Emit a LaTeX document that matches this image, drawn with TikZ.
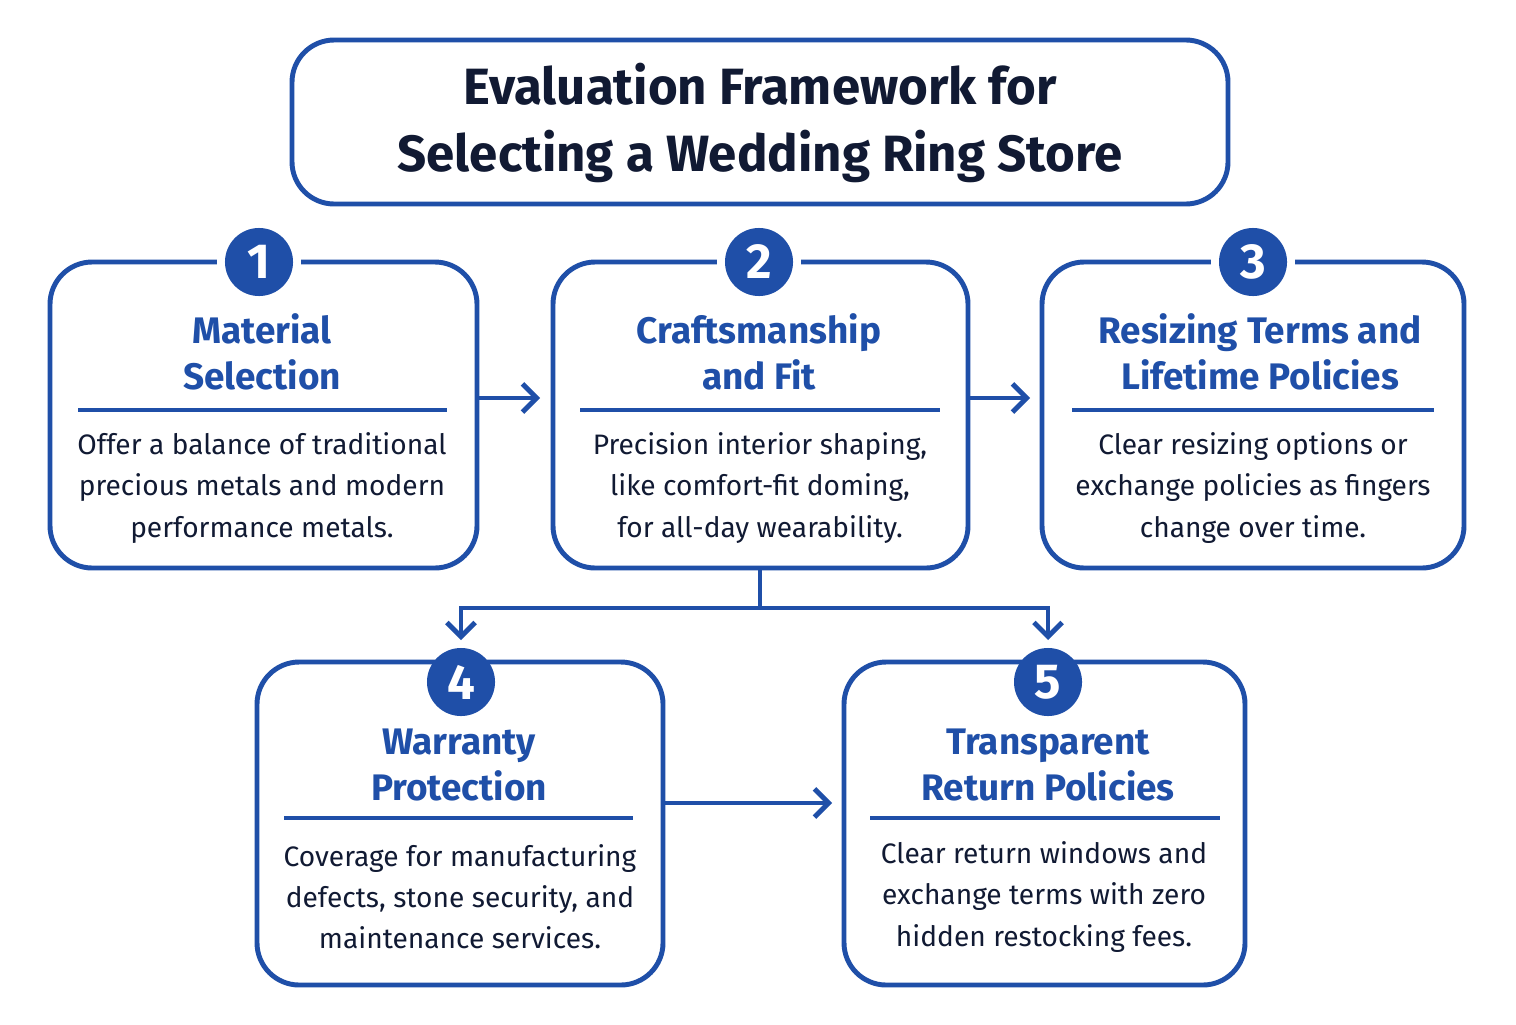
\documentclass[tikz,border=0pt]{standalone}
\usepackage{fontspec}
\setmainfont{Fira Sans}
\usetikzlibrary{positioning,arrows.meta}
\definecolor{ringblue}{HTML}{1F4FA8}
\definecolor{navy}{HTML}{111A33}
\tikzset{
  card/.style={draw=ringblue,line width=1.4pt,rounded corners=12pt,fill=white},
  badge/.style={circle,fill=ringblue,minimum size=0.68cm,inner sep=0pt,text=white,font=\bfseries\fontsize{14}{14}\selectfont},
  head/.style={text=ringblue,align=center,font=\fontsize{10.5}{13}\selectfont\bfseries},
  body/.style={text=navy,align=center,font=\fontsize{8}{11.7}\selectfont},
  flow/.style={draw=ringblue,line width=1.4pt,-{Straight Barb[length=4pt,width=8pt]}}
}
\begin{document}
\begin{tikzpicture}[x=0.01cm,y=-0.01cm]
\useasboundingbox[fill=white] (0,0) rectangle (1516,1024);

% title
\draw[card] (292,40) rectangle (1228,204);
\node[text=navy,align=center,font=\fontsize{14.5}{19}\selectfont\bfseries] (title) at (760,123) {Evaluation Framework for\\Selecting a Wedding Ring Store};

% cards
\draw[card] (50,262) rectangle (477,568);
\draw[card] (553,262) rectangle (968,568);
\draw[card] (1042,262) rectangle (1464,568);
\draw[card] (257,662) rectangle (663,985);
\draw[card] (844,662) rectangle (1245,985);

% badges (white gap on the border)
\foreach \n/\x/\y in {1/259/262,2/759/262,3/1253/262,4/461/682,5/1048/682}{
  \fill[white] (\x-42,\y-10) rectangle (\x+42,\y+10);
  \node[badge] (b\n) at (\x,\y) {\n};
}

% headings and rules
\node[head] (h1) at (262,352) {Material\\Selection};
\node[head] (h2) at (759,352) {Craftsmanship\\and Fit};
\node[head] (h3) at (1260,352) {Resizing Terms and\\Lifetime Policies};
\node[head] (h4) at (459,765) {Warranty\\Protection};
\node[head] (h5) at (1048,765) {Transparent\\Return Policies};
\draw[ringblue,line width=1pt] (78,410) -- (447,410);
\draw[ringblue,line width=1pt] (580,410) -- (940,410);
\draw[ringblue,line width=1pt] (1072,410) -- (1434,410);
\draw[ringblue,line width=1pt] (284,818) -- (633,818);
\draw[ringblue,line width=1pt] (870,818) -- (1220,818);

% descriptions
\node[body] (d1) at (262,488) {Offer a balance of traditional\\precious metals and modern\\performance metals.};
\node[body] (d2) at (760,488) {Precision interior shaping,\\like comfort-fit doming,\\for all-day wearability.};
\node[body] (d3) at (1253,488) {Clear resizing options or\\exchange policies as fingers\\change over time.};
\node[body] (d4) at (460,897) {Coverage for manufacturing\\defects, stone security, and\\maintenance services.};
\node[body] (d5) at (1044,897) {Clear return windows and\\exchange terms with zero\\hidden restocking fees.};

% connectors
\coordinate (o12) at (477,398); \coordinate (i12) at (540,398);
\coordinate (o23) at (968,398); \coordinate (i23) at (1030,398);
\coordinate (o45) at (663,803); \coordinate (i45) at (832,803);
\coordinate (c2) at (760,568);
\draw[flow] (o12) -- (i12);
\draw[flow] (o23) -- (i23);
\draw[flow] (o45) -- (i45);
\draw[ringblue,line width=1.4pt] (c2) -- (760,608);
\draw[flow] (760,608) -| (461,640);
\draw[flow] (760,608) -| (1048,640);
\end{tikzpicture}
\end{document}
